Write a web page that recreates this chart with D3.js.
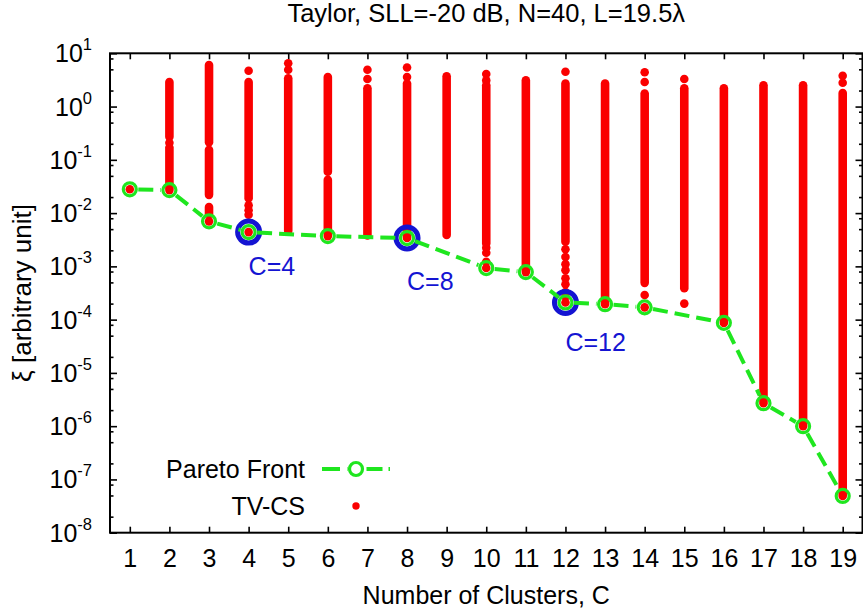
<!DOCTYPE html>
<html>
<head>
<meta charset="utf-8">
<script src="https://cdn.jsdelivr.net/npm/d3@7"></script>
<style>
  html, body { margin: 0; padding: 0; background: #fff; }
  svg { display: block; font-family: "Liberation Sans", Arial, Helvetica, sans-serif; }
</style>
</head>
<body>
<svg id="chart" width="863" height="614"></svg>
<script>
// Number of clusters shown on the x axis
const clusterTicks = [1, 2, 3, 4, 5, 6, 7, 8, 9, 10, 11, 12, 13, 14, 15, 16, 17, 18, 19];
// Decade exponents labelled on the logarithmic y axis
const decadeExponents = [1, 0, -1, -2, -3, -4, -5, -6, -7, -8];
// Minor tick mantissas inside each decade
const minorMantissas = [2, 5, 8];

// Pareto front (cluster count, xi)
const paretoC  = [1, 2, 3, 4, 6, 8, 10, 11, 12, 13, 14, 16, 17, 18, 19];
const paretoXi = [2.8e-2, 2.7e-2, 7.0e-3, 4.4e-3, 3.7e-3, 3.4e-3, 9.3e-4, 7.8e-4,
                  2.1e-4, 1.95e-4, 1.7e-4, 8.7e-5, 2.7e-6, 1.0e-6, 4.9e-8];
// Selected trade-off solutions
const highlightedC = [4, 8, 12];

// TV-CS solutions: densely packed runs [C, upper xi, lower xi]
const tvcsRuns = [
  [2, 2.9, 0.27], [2, 0.17, 2.7e-2],
  [3, 6.0, 0.215], [3, 0.154, 0.022], [3, 0.013, 0.0095],
  [4, 2.9, 0.019],
  [5, 3.4, 4.6e-3],
  [6, 3.6, 0.060], [6, 0.042, 3.7e-3],
  [7, 2.2, 3.8e-3],
  [8, 2.7, 3.4e-3],
  [9, 3.7, 3.9e-3],
  [10, 2.5, 2.7e-3],
  [11, 3.1, 7.8e-4],
  [12, 2.7, 2.9e-3],
  [13, 2.7, 1.95e-4],
  [14, 1.75, 4.9e-4],
  [15, 2.2, 3.9e-4],
  [16, 2.2, 8.7e-5],
  [17, 2.5, 2.7e-6],
  [18, 2.5, 1.0e-6],
  [19, 1.8, 4.9e-8]
];
// TV-CS solutions standing apart from the runs [C, xi]
const tvcsSingles = [
  [1, 2.8e-2],
  [2, 0.21],
  [3, 7.0e-3],
  [4, 4.7], [4, 1.4e-2], [4, 1.13e-2], [4, 9.3e-3], [4, 4.4e-3],
  [5, 6.5], [5, 4.9],
  [7, 4.9], [7, 3.3],
  [8, 5.4], [8, 3.6],
  [10, 4.1], [10, 3.1], [10, 2.24e-3], [10, 1.8e-3], [10, 1.22e-3], [10, 9.3e-4],
  [12, 4.5], [12, 2.1e-3], [12, 1.5e-3], [12, 1.1e-3], [12, 8.5e-4], [12, 6.0e-4],
  [12, 4.6e-4], [12, 3.3e-4], [12, 2.7e-4], [12, 2.1e-4],
  [14, 4.4], [14, 2.9], [14, 2.9e-4], [14, 1.7e-4],
  [15, 3.3], [15, 2.0e-4],
  [19, 3.8], [19, 2.8]
];

// ---- layout ----
const plot = { left: 110, right: 862.5, top: 53.3, bottom: 532.7 };
const RED = "#fa0000", GREEN = "#1fe61f", BLUE = "#1414d2";
const FONT = 25;

const svg = d3.select("#chart");

const x = d3.scaleLinear().domain([0.5, 19.5]).range([plot.left, plot.right]);
const y = d3.scaleLog().domain([1e-8, 10]).range([plot.bottom, plot.top]);

const decades = decadeExponents.map(e => Math.pow(10, e));
const minors = [];
decadeExponents.slice(1).forEach(e => minorMantissas.forEach(m => minors.push(m * Math.pow(10, e))));

// ---- axes (ticks point inward) ----
function styleAxis(g) {
  g.select(".domain").remove();
  g.selectAll(".tick line").attr("stroke", "#000").attr("stroke-width", 1.6);
}
svg.append("g").attr("transform", `translate(0,${plot.bottom})`)
  .call(d3.axisBottom(x).tickValues(clusterTicks).tickSize(-6).tickPadding(17).tickFormat(d3.format("d")))
  .call(styleAxis)
  .call(g => g.selectAll("text").attr("font-size", FONT).attr("fill", "#000")
                .attr("font-family", "Liberation Sans, Arial, sans-serif"));
svg.append("g").attr("transform", `translate(0,${plot.top})`)
  .call(d3.axisTop(x).tickValues(clusterTicks).tickSize(-6).tickFormat(""))
  .call(styleAxis);

svg.append("g").attr("transform", `translate(${plot.left},0)`)
  .call(d3.axisLeft(y).tickValues(decades).tickSize(-7).tickFormat(""))
  .call(styleAxis);
svg.append("g").attr("transform", `translate(${plot.left},0)`)
  .call(d3.axisLeft(y).tickValues(minors).tickSize(-3.5).tickFormat(""))
  .call(styleAxis);
svg.append("g").attr("transform", `translate(${plot.right},0)`)
  .call(d3.axisRight(y).tickValues(decades).tickSize(-7).tickFormat(""))
  .call(styleAxis);
svg.append("g").attr("transform", `translate(${plot.right},0)`)
  .call(d3.axisRight(y).tickValues(minors).tickSize(-3.5).tickFormat(""))
  .call(styleAxis);

// y tick labels as 10 with a superscript exponent
const yLabels = svg.append("g").attr("font-size", FONT).attr("text-anchor", "end");
decadeExponents.forEach(e => {
  const t = yLabels.append("text")
    .attr("x", plot.left - 18)
    .attr("y", y(Math.pow(10, e)) + 9);
  t.append("tspan").text("10");
  t.append("tspan").attr("font-size", 16.5).attr("dy", -12).text(String(e));
});

// ---- TV-CS solutions ----
const dotR = 4.3;
svg.append("g").selectAll("line").data(tvcsRuns).join("line")
  .attr("x1", d => x(d[0])).attr("x2", d => x(d[0]))
  .attr("y1", d => y(d[1])).attr("y2", d => y(d[2]))
  .attr("stroke", RED).attr("stroke-width", dotR * 2).attr("stroke-linecap", "round");
svg.append("g").selectAll("circle").data(tvcsSingles).join("circle")
  .attr("cx", d => x(d[0])).attr("cy", d => y(d[1])).attr("r", dotR).attr("fill", RED);

// ---- Pareto front ----
const pareto = paretoC.map((c, i) => ({ c, xi: paretoXi[i], px: x(c), py: y(paretoXi[i]) }));

svg.append("g").selectAll("circle").data(pareto.filter(p => highlightedC.includes(p.c))).join("circle")
  .attr("cx", d => d.px).attr("cy", d => d.py).attr("r", 11)
  .attr("fill", "none").attr("stroke", BLUE).attr("stroke-width", 5);

const GAP = 8.5;
const segs = d3.pairs(pareto).map(([a, b]) => {
  const dx = b.px - a.px, dy = b.py - a.py, len = Math.hypot(dx, dy);
  const ux = dx / len, uy = dy / len;
  return { x1: a.px + ux * GAP, y1: a.py + uy * GAP, x2: b.px - ux * GAP, y2: b.py - uy * GAP };
});
svg.append("g").selectAll("line").data(segs).join("line")
  .attr("x1", d => d.x1).attr("y1", d => d.y1).attr("x2", d => d.x2).attr("y2", d => d.y2)
  .attr("stroke", GREEN).attr("stroke-width", 4).attr("stroke-dasharray", "15,7");

svg.append("g").selectAll("circle").data(pareto).join("circle")
  .attr("cx", d => d.px).attr("cy", d => d.py).attr("r", 6.5)
  .attr("fill", "none").attr("stroke", GREEN).attr("stroke-width", 3.2);

// labels of the selected solutions
const labelOffset = { 4: [0, 43], 8: [0, 52], 12: [0, 49] };
svg.append("g").attr("font-size", FONT).attr("fill", BLUE)
  .selectAll("text").data(pareto.filter(p => highlightedC.includes(p.c))).join("text")
  .attr("x", d => d.px + labelOffset[d.c][0]).attr("y", d => d.py + labelOffset[d.c][1])
  .text(d => `C=${d.c}`);

// ---- frame ----
svg.append("rect")
  .attr("x", plot.left).attr("y", plot.top)
  .attr("width", plot.right - plot.left).attr("height", plot.bottom - plot.top)
  .attr("fill", "none").attr("stroke", "#000").attr("stroke-width", 2);

// ---- legend ----
const legend = svg.append("g").attr("font-size", FONT);
const lgTextX = 305, lgSampleX0 = 322, lgSampleX1 = 390, lgMarkX = 356;
const lgRow1 = 469, lgRow2 = 506;
legend.append("text").attr("x", lgTextX).attr("y", lgRow1 + 9).attr("text-anchor", "end").text("Pareto Front");
legend.append("line").attr("x1", lgSampleX0).attr("x2", lgMarkX - GAP).attr("y1", lgRow1).attr("y2", lgRow1)
  .attr("stroke", GREEN).attr("stroke-width", 4).attr("stroke-dasharray", "18,7");
legend.append("line").attr("x1", lgMarkX + GAP + 2).attr("x2", lgSampleX1).attr("y1", lgRow1).attr("y2", lgRow1)
  .attr("stroke", GREEN).attr("stroke-width", 4).attr("stroke-dasharray", "16,6");
legend.append("circle").attr("cx", lgMarkX).attr("cy", lgRow1).attr("r", 6.5)
  .attr("fill", "none").attr("stroke", GREEN).attr("stroke-width", 3.2);
legend.append("text").attr("x", lgTextX).attr("y", lgRow2 + 9).attr("text-anchor", "end").text("TV-CS");
legend.append("circle").attr("cx", lgMarkX).attr("cy", lgRow2).attr("r", 3.7).attr("fill", RED);

// ---- titles ----
svg.append("text").attr("x", (plot.left + plot.right) / 2).attr("y", 22)
  .attr("text-anchor", "middle").attr("font-size", 25.5)
  .text("Taylor, SLL=-20 dB, N=40, L=19.5λ");
svg.append("text").attr("x", (plot.left + plot.right) / 2).attr("y", 604)
  .attr("text-anchor", "middle").attr("font-size", 25)
  .text("Number of Clusters, C");
svg.append("text")
  .attr("transform", `translate(31,${(plot.top + plot.bottom) / 2}) rotate(-90)`)
  .attr("text-anchor", "middle").attr("font-size", 26)
  .text("ξ [arbitrary unit]");
</script>
</body>
</html>
